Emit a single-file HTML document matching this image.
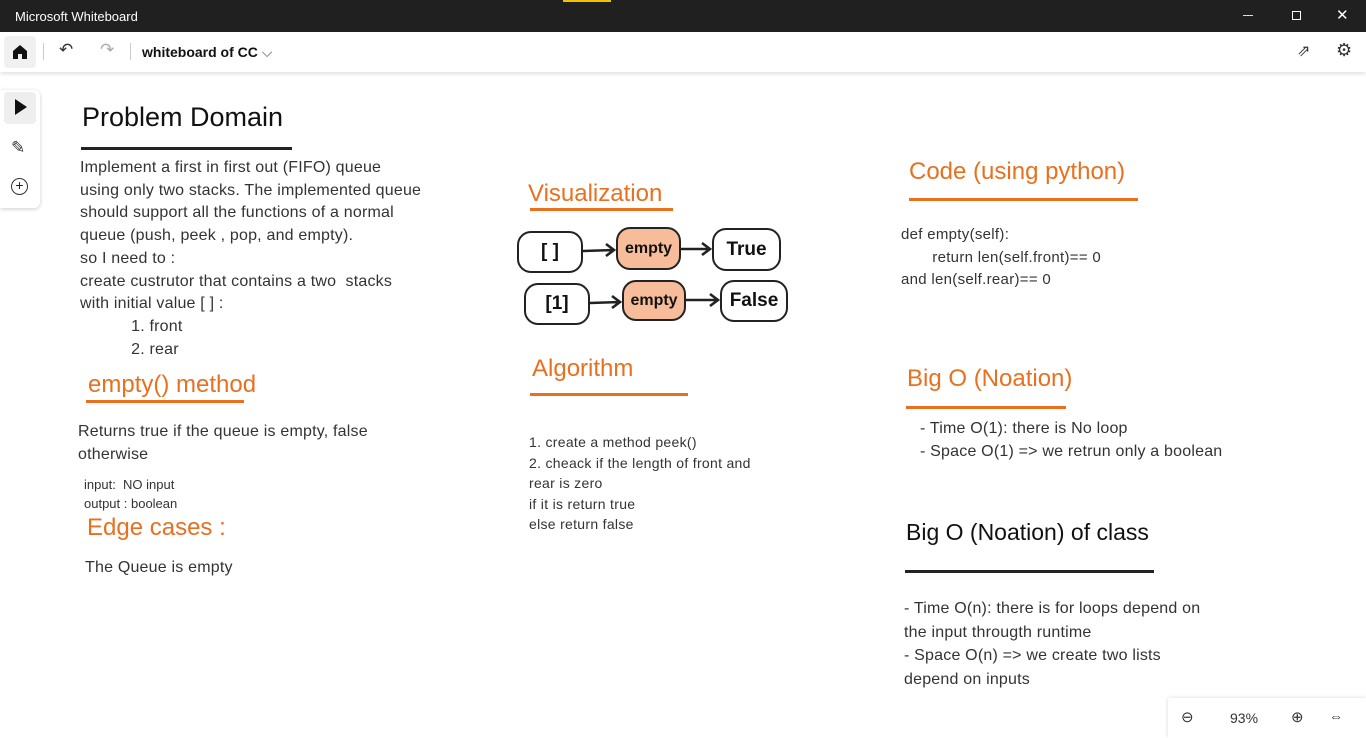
<!DOCTYPE html>
<html><head><meta charset="utf-8"><style>
*{margin:0;padding:0;box-sizing:border-box}
body{width:1366px;height:738px;background:#fff;position:relative;overflow:hidden;font-family:"Liberation Sans",sans-serif;color:#222}
.a{position:absolute;white-space:nowrap}
.t{font-size:16px;line-height:22.7px;color:#333;letter-spacing:0.2px}
.h{color:#e8701f;font-size:24px}
.ln{position:absolute;height:3px}
.bx{position:absolute;border:2px solid #222;border-radius:14px;background:#fff;font-weight:bold;display:flex;align-items:center;justify-content:center;font-size:19px;color:#111}
.or{background:#f7bd9b;font-size:16px}
</style></head><body>
<div class="a" style="left:0;top:0;width:1366px;height:32px;background:#202020"></div>
<div class="a" style="left:15px;top:9px;color:#fff;font-size:13px">Microsoft Whiteboard</div>
<div class="a" style="left:563px;top:0;width:48px;height:2px;background:#f2c200"></div>
<div class="a" style="left:1243px;top:15px;width:10px;height:1px;background:#ddd"></div>
<div class="a" style="left:1292px;top:11px;width:9px;height:9px;border:1px solid #fff"></div>
<div class="a" style="left:1336px;top:6px;color:#fff;font-size:15px">✕</div>
<div class="a" style="left:0;top:32px;width:1366px;height:40px;background:#fff;box-shadow:0 2px 4px rgba(0,0,0,.12)"></div>
<div class="a" style="left:4px;top:36px;width:32px;height:32px;background:#f0f0f0;border-radius:4px"></div>
<svg class="a" style="left:12px;top:44px" width="16" height="15"><path d="M1 7 L8 1 L15 7 V15 H10 V10 H6 V15 H1Z" fill="#111"/></svg>
<div class="a" style="left:43px;top:43px;width:1px;height:17px;background:#ccc"></div>
<div class="a" style="left:59px;top:40px;font-size:17px;color:#333">↶</div>
<div class="a" style="left:100px;top:40px;font-size:17px;color:#aaa">↷</div>
<div class="a" style="left:130px;top:43px;width:1px;height:17px;background:#ccc"></div>
<div class="a" style="left:142px;top:44px;font-size:14px;font-weight:bold;color:#111">whiteboard of CC <span style="font-weight:normal;color:#555">⌵</span></div>
<div class="a" style="left:1297px;top:41px;font-size:16px;color:#333">⇗</div>
<div class="a" style="left:1336px;top:40px;font-size:18px;color:#333">⚙</div>
<div class="a" style="left:0;top:90px;width:40px;height:118px;background:#fff;border-radius:0 6px 6px 0;box-shadow:0 1px 4px rgba(0,0,0,.2)"></div>
<div class="a" style="left:4px;top:92px;width:32px;height:32px;background:#eee;border-radius:4px"></div>
<svg class="a" style="left:14px;top:98px" width="14" height="18"><path d="M1 1 L13 9 L1 17Z" fill="#111"/></svg>
<div class="a" style="left:11px;top:138px;font-size:17px;color:#333">✎</div>
<div class="a" style="left:11px;top:178px;width:17px;height:17px;border:1.5px solid #333;border-radius:50%;font-size:14px;line-height:13px;text-align:center">+</div>

<div class="a" style="left:82px;top:102px;font-size:27px;color:#111">Problem Domain</div>
<div class="ln" style="left:81px;top:147px;width:211px;background:#222"></div>
<div class="a t" style="left:80px;top:157px">Implement a first in first out (FIFO) queue<br>using only two stacks. The implemented queue<br>should support all the functions of a normal<br>queue (push, peek , pop, and empty).<br>so I need to :<br>create custrutor that contains a two&nbsp; stacks<br>with initial value [ ] :<br>&nbsp;&nbsp;&nbsp;&nbsp;&nbsp;&nbsp;&nbsp;&nbsp;&nbsp;&nbsp;&nbsp;1. front<br>&nbsp;&nbsp;&nbsp;&nbsp;&nbsp;&nbsp;&nbsp;&nbsp;&nbsp;&nbsp;&nbsp;2. rear</div>
<div class="a h" style="left:88px;top:371px">empty() method</div>
<div class="ln" style="left:86px;top:400px;width:158px;background:#e8701f"></div>
<div class="a t" style="left:78px;top:421px">Returns true if the queue is empty, false<br>otherwise</div>
<div class="a" style="left:84px;top:475px;font-size:13px;line-height:19px;color:#333">input:&nbsp; NO input<br>output : boolean</div>
<div class="a h" style="left:87px;top:514px">Edge cases :</div>
<div class="a t" style="left:85px;top:557px">The Queue is empty</div>

<div class="a h" style="left:528px;top:180px">Visualization</div>
<div class="ln" style="left:530px;top:208px;width:143px;background:#e8701f"></div>
<div class="bx" style="left:517px;top:231px;width:66px;height:42px">[ ]</div>
<div class="bx or" style="left:616px;top:227px;width:65px;height:43px">empty</div>
<div class="bx" style="left:712px;top:228px;width:69px;height:43px">True</div>
<div class="bx" style="left:524px;top:283px;width:66px;height:42px">[1]</div>
<div class="bx or" style="left:622px;top:280px;width:64px;height:41px">empty</div>
<div class="bx" style="left:720px;top:280px;width:68px;height:42px">False</div>
<svg class="a" style="left:0;top:0" width="1366" height="738">
<g stroke="#222" stroke-width="2.6" fill="none">
<path d="M583 251 L614 250 M606 244 L614 250 L606 256"/>
<path d="M681 249 L710 249 M702 243 L710 249 L702 255"/>
<path d="M590 303 L620 302 M612 296 L620 302 L612 308"/>
<path d="M686 300 L718 300 M710 294 L718 300 L710 306"/>
</g></svg>

<div class="a h" style="left:532px;top:355px">Algorithm</div>
<div class="ln" style="left:530px;top:393px;width:158px;background:#e8701f"></div>
<div class="a" style="left:529px;top:432px;font-size:14px;line-height:20.5px;color:#333;letter-spacing:0.3px">1. create a method peek()<br>2. cheack if the length of front and<br>rear is zero<br>if it is return true<br>else return false</div>

<div class="a h" style="left:909px;top:158px">Code (using python)</div>
<div class="ln" style="left:909px;top:198px;width:229px;background:#e8701f"></div>
<div class="a" style="left:901px;top:224px;font-size:15px;line-height:22.5px;color:#333;letter-spacing:0.3px">def empty(self):<br>&nbsp;&nbsp;&nbsp;&nbsp;&nbsp;&nbsp;&nbsp;return len(self.front)== 0<br>and len(self.rear)== 0</div>

<div class="a h" style="left:907px;top:365px">Big O (Noation)</div>
<div class="ln" style="left:906px;top:406px;width:160px;background:#e8701f"></div>
<div class="a t" style="left:920px;top:418px">- Time O(1): there is No loop<br>- Space O(1) =&gt; we retrun only a boolean</div>

<div class="a" style="left:906px;top:519px;font-size:23px;color:#111">Big O (Noation) of class</div>
<div class="ln" style="left:905px;top:570px;width:249px;background:#222"></div>
<div class="a t" style="left:904px;top:597px;line-height:23.5px">- Time O(n): there is for loops depend on<br>the input througth runtime<br>- Space O(n) =&gt; we create two lists<br>depend on inputs</div>

<div class="a" style="left:1168px;top:698px;width:198px;height:40px;background:#fff;box-shadow:0 0 4px rgba(0,0,0,.15)"></div>
<div class="a" style="left:1181px;top:708px;font-size:15px;color:#333">⊖</div>
<div class="a" style="left:1230px;top:710px;font-size:14px;color:#333">93%</div>
<div class="a" style="left:1291px;top:708px;font-size:15px;color:#333">⊕</div>
<div class="a" style="left:1329px;top:708px;font-size:14px;color:#333">⇔</div>
</body></html>
